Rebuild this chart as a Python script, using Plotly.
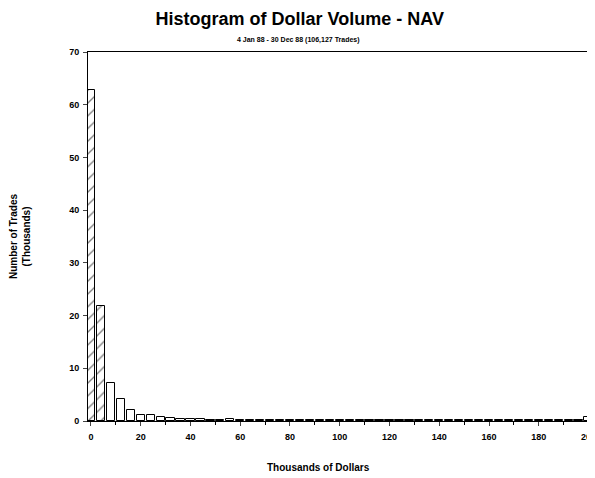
import plotly.graph_objects as go

# bin centres, thousands of dollars (width 4)
bin_centres = list(range(0, 201, 4))
# number of trades per bin, thousands
trades = [62.7, 21.8, 7.3, 4.2, 2.0, 1.2, 1.1, 0.8, 0.5, 0.3,
          0.3, 0.3, 0.2, 0.2, 0.3, 0.2, 0.1, 0.1, 0.1, 0.1,
          0.1, 0.1, 0.1, 0.1, 0.1, 0.1, 0.1, 0.1, 0.1, 0.1,
          0.1, 0.1, 0.1, 0.1, 0.1, 0.1, 0.1, 0.1, 0.1, 0.1,
          0.1, 0.1, 0.1, 0.1, 0.1, 0.1, 0.1, 0.1, 0.1, 0.1,
          0.8]
hatched_bins = 2

x_ticks = list(range(0, 201, 20))
y_ticks = list(range(0, 71, 10))

title = "Histogram of Dollar Volume - NAV"
subtitle = "4 Jan 88 - 30 Dec 88 (106,127 Trades)"
x_title = "Thousands of Dollars"
y_title = "Number of Trades<br>(Thousands)"

patterns = ["/" if i < hatched_bins else "" for i in range(len(trades))]

fig = go.Figure()
fig.add_trace(go.Bar(
    x=bin_centres, y=trades, width=3.3,
    marker=dict(color="white", line=dict(color="black", width=1),
                pattern=dict(shape=patterns, fgcolor="black", size=9, solidity=0.15)),
))

font = "Liberation Sans, Arial, sans-serif"
# page body has an 8px margin, so the figure is sized to fit inside it
fig.update_layout(
    width=587, height=470,
    margin=dict(l=80, r=5, t=44, b=57),
    plot_bgcolor="white", paper_bgcolor="white",
    showlegend=False, bargap=0,
    font=dict(family=font, color="black"),
    title=dict(text="<b>" + title + "</b>", x=0.497, xref="container", xanchor="center",
               y=1, yref="container", yanchor="top", pad=dict(t=4),
               font=dict(size=18, family=font)),
    annotations=[
        dict(text="<b>" + subtitle + "</b>", x=0.42, y=1, xref="paper", yref="paper",
             xanchor="center", yanchor="bottom", yshift=6, showarrow=False,
             font=dict(size=7, family=font)),
        dict(text="<b>" + x_title + "</b>", x=0.46, y=0, xref="paper", yref="paper",
             xanchor="center", yanchor="top", yshift=-39, showarrow=False,
             font=dict(size=10, family=font)),
    ],
)
fig.update_xaxes(
    range=[-1.2, 200.6], tickvals=x_ticks, ticktext=["<b>%d</b>" % v for v in x_ticks],
    ticks="outside", ticklen=4, automargin=False, ticklabeloverflow="allow",
    ticklabelstandoff=3,
    tickfont=dict(size=9), showgrid=False, zeroline=False,
    showline=True, linecolor="black", linewidth=1, mirror=True,
    minor=dict(dtick=10, ticks="outside", ticklen=3, tickcolor="black"),
)
fig.update_yaxes(
    range=[0, 70], tickvals=y_ticks, ticktext=["<b>%d</b>" % v for v in y_ticks],
    ticks="outside", ticklen=4, automargin=False, ticklabelstandoff=2,
    tickfont=dict(size=9), showgrid=False, zeroline=False,
    showline=True, linecolor="black", linewidth=1, mirror=True,
    title=dict(text="<b>" + y_title + "</b>", font=dict(size=10), standoff=38),
)

fig.write_html("out.html")
